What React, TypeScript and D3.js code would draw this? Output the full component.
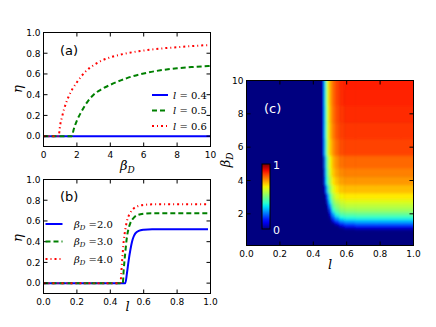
import * as d3 from 'd3'

const W = 436
const H = 327

// panel (a): eta vs beta_D for three l values
const A_BETA_04 = [0, 10]
const A_ETA_04 = [0, 0]
const A_BETA_05 = [0, 1.7, 1.8, 2.0, 2.25, 2.5, 3, 3.5, 4, 5, 6, 7, 8, 9, 10]
const A_ETA_05 = [0, 0, 0.06, 0.15, 0.23, 0.3, 0.4, 0.455, 0.495, 0.56, 0.605, 0.635, 0.655, 0.668, 0.678]
const A_BETA_06 = [0, 0.9, 1.0, 1.1, 1.25, 1.5, 1.75, 2, 2.5, 3, 3.5, 4, 5, 6, 7, 8, 9, 10]
const A_ETA_06 = [0, 0, 0.11, 0.18, 0.27, 0.38, 0.46, 0.52, 0.62, 0.685, 0.73, 0.76, 0.8, 0.826, 0.845, 0.858, 0.87, 0.88]
const A_LABELS = ['0.4', '0.5', '0.6']

// panel (b): eta vs l for three beta_D values
const B_L_2 = [0, 0.49, 0.5, 0.51, 0.52, 0.53, 0.54, 0.55, 0.57, 0.6, 0.65, 0.985]
const B_ETA_2 = [0, 0, 0.1, 0.22, 0.32, 0.4, 0.45, 0.48, 0.505, 0.515, 0.52, 0.52]
const B_L_3 = [0, 0.475, 0.48, 0.49, 0.5, 0.51, 0.52, 0.54, 0.56, 0.6, 0.65, 0.985]
const B_ETA_3 = [0, 0, 0.12, 0.3, 0.45, 0.53, 0.58, 0.63, 0.655, 0.67, 0.675, 0.675]
const B_L_4 = [0, 0.46, 0.47, 0.48, 0.49, 0.5, 0.52, 0.54, 0.56, 0.6, 0.65, 0.985]
const B_ETA_4 = [0, 0, 0.2, 0.4, 0.52, 0.6, 0.68, 0.72, 0.74, 0.755, 0.76, 0.76]
const B_LABELS = ['2.0', '3.0', '4.0']

// panel (c): eta over (l, beta_D); everything outside the grid is 0
const HEAT_L = [0.45, 0.46, 0.47, 0.48, 0.49, 0.5, 0.52, 0.54, 0.57, 0.6, 0.7, 0.85, 1.0]
const HEAT_BETA = [1.1, 1.2, 1.3, 1.4, 1.5, 1.6, 1.8, 2.0, 2.25, 2.5, 2.75, 3.0, 3.5, 4.0, 4.5, 5.0, 6.0, 7.0, 8.0, 9.0, 10.0]
const HEAT_ETA = [
  [0, 0, 0, 0, 0, 0, 0, 0, 0, 0.01, 0.025, 0.03, 0.03],
  [0, 0, 0, 0, 0, 0, 0, 0, 0.02, 0.065, 0.09, 0.09, 0.09],
  [0, 0, 0, 0, 0, 0, 0, 0, 0.08, 0.125, 0.15, 0.15, 0.15],
  [0, 0, 0, 0, 0, 0, 0, 0.06, 0.14, 0.185, 0.21, 0.21, 0.21],
  [0, 0, 0, 0, 0, 0, 0.03, 0.13, 0.21, 0.25, 0.27, 0.27, 0.27],
  [0, 0, 0, 0, 0, 0, 0.1, 0.2, 0.28, 0.31, 0.32, 0.32, 0.32],
  [0, 0, 0, 0, 0, 0.03, 0.2, 0.3, 0.37, 0.39, 0.4, 0.4, 0.4],
  [0, 0, 0, 0, 0, 0.09, 0.29, 0.4, 0.45, 0.465, 0.47, 0.47, 0.47],
  [0, 0, 0, 0, 0.04, 0.19, 0.4, 0.47, 0.52, 0.535, 0.54, 0.54, 0.54],
  [0, 0, 0, 0, 0.12, 0.28, 0.46, 0.52, 0.565, 0.58, 0.58, 0.58, 0.58],
  [0, 0, 0, 0.03, 0.22, 0.36, 0.51, 0.57, 0.605, 0.62, 0.62, 0.62, 0.62],
  [0, 0, 0, 0.1, 0.29, 0.43, 0.56, 0.62, 0.65, 0.66, 0.66, 0.66, 0.66],
  [0, 0, 0.07, 0.26, 0.43, 0.52, 0.62, 0.67, 0.7, 0.71, 0.71, 0.71, 0.71],
  [0, 0, 0.18, 0.38, 0.5, 0.58, 0.67, 0.71, 0.74, 0.75, 0.75, 0.75, 0.75],
  [0, 0, 0.21, 0.41, 0.53, 0.62, 0.7, 0.74, 0.765, 0.775, 0.775, 0.775, 0.775],
  [0, 0.03, 0.24, 0.44, 0.56, 0.64, 0.72, 0.76, 0.79, 0.8, 0.8, 0.8, 0.8],
  [0, 0.09, 0.32, 0.5, 0.62, 0.69, 0.76, 0.8, 0.83, 0.84, 0.84, 0.84, 0.84],
  [0, 0.1, 0.34, 0.52, 0.63, 0.71, 0.78, 0.82, 0.845, 0.855, 0.855, 0.855, 0.855],
  [0, 0.1, 0.34, 0.52, 0.64, 0.72, 0.79, 0.83, 0.855, 0.865, 0.865, 0.865, 0.865],
  [0, 0.1, 0.35, 0.53, 0.65, 0.73, 0.8, 0.84, 0.865, 0.875, 0.875, 0.875, 0.875],
  [0, 0.11, 0.35, 0.54, 0.66, 0.73, 0.8, 0.84, 0.87, 0.88, 0.88, 0.88, 0.88],
]

const TICKS_A_X = [0, 2, 4, 6, 8, 10]
const TICKS_ETA = [0, 0.2, 0.4, 0.6, 0.8, 1.0]
const TICKS_L = [0, 0.2, 0.4, 0.6, 0.8, 1.0]
const TICKS_C_Y = [2, 4, 6, 8, 10]

const COLORS = ['#0000ff', '#008000', '#ff0000']
const DASHES = [null, '5,3', '2,3,1,3']
const SANS = 'DejaVu Sans, sans-serif'
const SERIF = 'DejaVu Serif, serif'

// matplotlib "jet"
const jetR = d3.scaleLinear().domain([0, 0.35, 0.66, 0.89, 1]).range([0, 0, 1, 1, 0.5]).clamp(true)
const jetG = d3.scaleLinear().domain([0, 0.125, 0.375, 0.64, 0.91, 1]).range([0, 0, 1, 1, 0, 0]).clamp(true)
const jetB = d3.scaleLinear().domain([0, 0.11, 0.34, 0.65, 1]).range([0.5, 1, 1, 0, 0]).clamp(true)
const jet = (v: number) => d3.rgb(jetR(v) * 255, jetG(v) * 255, jetB(v) * 255).formatHex()

function Frame({ x, y, xTicks, yTicks, xFmt, yFmt, tickColor = '#000' }: any) {
  const [x0, x1] = x.range()
  const [y0, y1] = y.range()
  const T = 4
  return (
    <g>
      {xTicks.map((t: number) => (
        <g key={'x' + t}>
          <line x1={x(t)} x2={x(t)} y1={y0} y2={y0 - T} stroke={tickColor} />
          <line x1={x(t)} x2={x(t)} y1={y1} y2={y1 + T} stroke={tickColor} />
          <text x={x(t)} y={y0 + 11} textAnchor="middle" fontFamily={SANS} fontSize={9}>{xFmt(t)}</text>
        </g>
      ))}
      {yTicks.map((t: number) => (
        <g key={'y' + t}>
          <line x1={x0} x2={x0 + T} y1={y(t)} y2={y(t)} stroke={tickColor} />
          <line x1={x1} x2={x1 - T} y1={y(t)} y2={y(t)} stroke={tickColor} />
          <text x={x0 - 3} y={y(t) + 3.3} textAnchor="end" fontFamily={SANS} fontSize={9}>{yFmt(t)}</text>
        </g>
      ))}
      <rect x={x0} y={y1} width={x1 - x0} height={y0 - y1} fill="none" stroke="#000" strokeWidth={1} />
    </g>
  )
}

function Series({ xs, ys, x, y, i }: any) {
  const line = d3.line<number>().x((_, k) => x(xs[k])).y((v) => y(v)).curve(d3.curveMonotoneX)
  return (
    <path d={line(ys) || ''} fill="none" stroke={COLORS[i]} strokeWidth={2}
      strokeDasharray={DASHES[i] || undefined} />
  )
}

const f1 = d3.format('.1f')

export default function App() {
  // (a)
  const xA = d3.scaleLinear().domain([0, 10]).range([43.5, 210.5])
  const yA = d3.scaleLinear().domain([-0.1, 1]).range([146.5, 32.5])
  // (b)
  const xB = d3.scaleLinear().domain([0, 1]).range([43.5, 210.5])
  const yB = d3.scaleLinear().domain([-0.1, 1]).range([293.5, 179.5])
  // (c)
  const xC = d3.scaleLinear().domain([0, 1]).range([246.5, 413.5])
  const yC = d3.scaleLinear().domain([0.1, 10]).range([245.5, 80.5])

  const colEdges = HEAT_L.map((l, j) => (j === 0 ? l - (HEAT_L[1] - l) / 2 : (l + HEAT_L[j - 1]) / 2))
  colEdges.push(1.05)
  const rowEdges = HEAT_BETA.map((b, i) => (i === 0 ? b - (HEAT_BETA[1] - b) / 2 : (b + HEAT_BETA[i - 1]) / 2))
  rowEdges.push(10.6)

  const aSeries = [
    [A_BETA_04, A_ETA_04],
    [A_BETA_05, A_ETA_05],
    [A_BETA_06, A_ETA_06],
  ]
  const bSeries = [
    [B_L_2, B_ETA_2],
    [B_L_3, B_ETA_3],
    [B_L_4, B_ETA_4],
  ]
  const aLegY = [95, 110.5, 126]
  const bLegY = [224, 241.5, 259]
  const cbStops = d3.range(0, 1.0001, 0.05)

  return (
    <svg width={W} height={H} style={{ position: 'absolute', left: 0, top: 0, display: 'block', background: '#fff' }}>
      <defs>
        <clipPath id="clipC">
          <rect x={xC.range()[0]} y={yC.range()[1]} width={xC.range()[1] - xC.range()[0]} height={yC.range()[0] - yC.range()[1]} />
        </clipPath>
        <filter id="soft" x="-10%" y="-10%" width="120%" height="120%">
          <feGaussianBlur stdDeviation="0.8 1.6" />
        </filter>
        <linearGradient id="cbar" x1="0" y1="1" x2="0" y2="0">
          {cbStops.map((t) => (
            <stop key={t} offset={t} stopColor={jet(t)} />
          ))}
        </linearGradient>
      </defs>

      {/* (a) */}
      {aSeries.map(([xs, ys], i) => (
        <Series key={i} xs={xs} ys={ys} x={xA} y={yA} i={i} />
      ))}
      <Frame x={xA} y={yA} xTicks={TICKS_A_X} yTicks={TICKS_ETA} xFmt={(t: number) => String(t)} yFmt={f1} />
      <text x={60} y={55} fontFamily={SANS} fontSize={13}>(a)</text>
      {A_LABELS.map((lab, i) => (
        <g key={lab}>
          <line x1={152} x2={168} y1={aLegY[i]} y2={aLegY[i]} stroke={COLORS[i]} strokeWidth={2}
            strokeDasharray={DASHES[i] || undefined} />
          <text x={173} y={aLegY[i] + 3.5} fontFamily={SERIF} fontSize={10}>
            <tspan fontStyle="italic">l</tspan> = {lab}
          </text>
        </g>
      ))}
      <text transform="translate(22,89) rotate(-90)" textAnchor="middle" fontFamily={SERIF} fontStyle="italic" fontSize={13}>η</text>
      <text x={120} y={170} fontFamily={SERIF} fontSize={13}>
        <tspan fontStyle="italic">β</tspan>
        <tspan fontStyle="italic" fontSize={9} dy={3}>D</tspan>
      </text>

      {/* (b) */}
      {bSeries.map(([xs, ys], i) => (
        <Series key={i} xs={xs} ys={ys} x={xB} y={yB} i={i} />
      ))}
      <Frame x={xB} y={yB} xTicks={TICKS_L} yTicks={TICKS_ETA} xFmt={f1} yFmt={f1} />
      <text x={60} y={201} fontFamily={SANS} fontSize={13}>(b)</text>
      {B_LABELS.map((lab, i) => (
        <g key={lab}>
          <line x1={45.5} x2={62.5} y1={bLegY[i]} y2={bLegY[i]} stroke={COLORS[i]} strokeWidth={2}
            strokeDasharray={DASHES[i] || undefined} />
          <text x={74} y={bLegY[i] + 3.5} fontFamily={SERIF} fontSize={10}>
            <tspan fontStyle="italic">β</tspan>
            <tspan fontStyle="italic" fontSize={7} dy={2}>D</tspan>
            <tspan dy={-2}> ={lab}</tspan>
          </text>
        </g>
      ))}
      <text transform="translate(22,238) rotate(-90)" textAnchor="middle" fontFamily={SERIF} fontStyle="italic" fontSize={13}>η</text>
      <text x={127.5} y={311} textAnchor="middle" fontFamily={SERIF} fontStyle="italic" fontSize={13}>l</text>

      {/* (c) */}
      <g clipPath="url(#clipC)">
        <g filter="url(#soft)">
          <rect x={xC.range()[0] - 10} y={yC.range()[1] - 10} width={190} height={190} fill={jet(0)} />
          {HEAT_ETA.map((row, i) =>
            row.map((v, j) => (
              <rect key={i + '-' + j}
                x={xC(colEdges[j])} y={yC(rowEdges[i + 1])}
                width={xC(colEdges[j + 1]) - xC(colEdges[j]) + 0.5}
                height={yC(rowEdges[i]) - yC(rowEdges[i + 1]) + 0.5}
                fill={jet(v)} />
            ))
          )}
        </g>
      </g>
      <rect x={262} y={164} width={8} height={65} fill="url(#cbar)" stroke="#000" strokeWidth={1} />
      <text x={273} y={168.5} fill="#fff" fontFamily={SANS} fontSize={11}>1</text>
      <text x={273} y={234} fill="#fff" fontFamily={SANS} fontSize={11}>0</text>
      <Frame x={xC} y={yC} xTicks={TICKS_L} yTicks={TICKS_C_Y} xFmt={f1} yFmt={(t: number) => String(t)} />
      <text x={264} y={113} fill="#fff" fontFamily={SANS} fontSize={13}>(c)</text>
      <text x={330} y={269} textAnchor="middle" fontFamily={SERIF} fontStyle="italic" fontSize={13}>l</text>
      <text transform="translate(230,160) rotate(-90)" textAnchor="middle" fontFamily={SERIF} fontSize={13}>
        <tspan fontStyle="italic">β</tspan>
        <tspan fontStyle="italic" fontSize={9} dy={3}>D</tspan>
      </text>
    </svg>
  )
}
